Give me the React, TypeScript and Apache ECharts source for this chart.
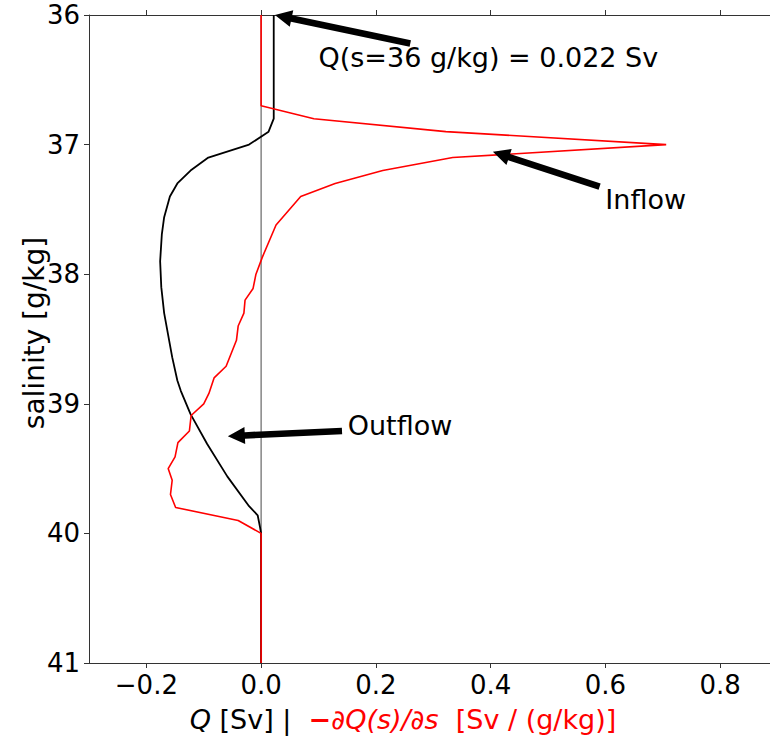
import React, { useEffect, useRef } from "react";
import * as echarts from "echarts";

// Q(s): cumulative transport [Sv] vs salinity [g/kg]
const salinityQ = [36.0, 36.8, 36.9, 37.0, 37.1, 37.2, 37.3, 37.4, 37.56, 37.69, 37.9, 38.1, 38.3, 38.64, 38.82, 38.9, 39.08, 39.31, 39.56, 39.79, 39.86, 39.95, 40.0, 41.0];
const qValues = [0.022, 0.022, 0.013, -0.021, -0.092, -0.123, -0.146, -0.159, -0.169, -0.173, -0.176, -0.174, -0.169, -0.155, -0.146, -0.14, -0.123, -0.094, -0.059, -0.021, -0.006, -0.002, 0, 0];

// -dQ/ds [Sv / (g/kg)] vs salinity
const salinityDeriv = [36.0, 36.7, 36.8, 36.9, 37.0, 37.1, 37.2, 37.3, 37.4, 37.62, 37.87, 38.0, 38.11, 38.2, 38.3, 38.4, 38.51, 38.71, 38.8, 38.92, 39.0, 39.09, 39.21, 39.3, 39.41, 39.5, 39.59, 39.7, 39.8, 39.9, 40.0, 41.0];
const derivValues = [0, 0, 0.092, 0.322, 0.706, 0.334, 0.212, 0.129, 0.069, 0.026, 0.002, -0.009, -0.014, -0.028, -0.03, -0.04, -0.043, -0.061, -0.082, -0.091, -0.1, -0.122, -0.125, -0.145, -0.15, -0.162, -0.155, -0.158, -0.149, -0.04, 0, 0];

// vertical reference line at zero
const zeroLineSalinity = [36, 41];

// axis ticks
const xTickValues = [-0.2, 0.0, 0.2, 0.4, 0.6, 0.8];
const yTickValues = [36, 37, 38, 39, 40, 41];
const xRange = [-0.3, 0.887];
const yRange = [36, 41];

// annotations
const annotationTexts = ["Q(s=36 g/kg) = 0.022 Sv", "Inflow", "Outflow"];
const arrowTips = [[0.024, 36.0], [0.404, 37.055], [-0.058, 39.25]];
const arrowTails = [[0.26, 36.22], [0.59, 37.325], [0.141, 39.21]];
const textAnchors = [[0.1, 36.33], [0.6, 37.42], [0.151, 39.17]];

const yAxisTitle = "salinity [g/kg]";

const FONT = "DejaVu Sans";

function fmtTick(v: number) {
  const s = Math.abs(v).toFixed(1);
  return v < -1e-9 ? "\u2212" + s : s;
}

export default function App() {
  const ref = useRef<HTMLDivElement>(null);
  useEffect(() => {
    if (!ref.current) return;
    const chart = echarts.init(ref.current, undefined, { renderer: "svg" });

    const annData = arrowTips.map((t, i) => [
      t[0], t[1], arrowTails[i][0], arrowTails[i][1], textAnchors[i][0], textAnchors[i][1],
    ]);

    const axisLineStyle = { color: "#333", width: 1 };

    chart.setOption({
      animation: false,
      backgroundColor: "#fff",
      grid: { left: 89, top: 15, right: 0, height: 648, containLabel: false },
      xAxis: [
        {
          type: "value",
          position: "bottom",
          min: xRange[0],
          max: xRange[1],
          axisLine: { show: true, onZero: false, lineStyle: axisLineStyle },
          axisTick: { show: true, length: 5, customValues: xTickValues, lineStyle: axisLineStyle },
          axisLabel: {
            customValues: xTickValues,
            formatter: (v: number) => fmtTick(v),
            fontSize: 26,
            fontFamily: FONT,
            color: "#000",
            margin: 9,
          },
          splitLine: { show: false },
        },
        {
          type: "value",
          position: "top",
          min: xRange[0],
          max: xRange[1],
          axisLine: { show: true, onZero: false, lineStyle: axisLineStyle },
          axisTick: { show: true, length: 5, customValues: xTickValues, lineStyle: axisLineStyle },
          axisLabel: { show: false },
          splitLine: { show: false },
        },
      ],
      yAxis: {
        type: "value",
        inverse: true,
        min: yRange[0],
        max: yRange[1],
        axisLine: { show: true, onZero: false, lineStyle: axisLineStyle },
        axisTick: { show: true, length: 5, customValues: yTickValues, lineStyle: axisLineStyle },
        axisLabel: {
          customValues: yTickValues,
          formatter: (v: number) => String(v),
          fontSize: 26,
          fontFamily: FONT,
          color: "#000",
          margin: 9,
        },
        splitLine: { show: false },
      },
      graphic: [
        {
          type: "text",
          x: 34,
          y: 333,
          rotation: Math.PI / 2,
          style: {
            text: yAxisTitle,
            fontSize: 28,
            fontFamily: FONT,
            fill: "#000",
            align: "center",
            verticalAlign: "middle",
          },
        },
        {
          type: "text",
          x: 403,
          y: 719,
          style: {
            text: "{qi|Q} {k|[Sv] |}  {rm|\u2212}{ri|\u2202Q(s)/\u2202s}  {r|[Sv / (g/kg)]}",
            fontSize: 27,
            fontFamily: FONT,
            fill: "#000",
            align: "center",
            verticalAlign: "middle",
            rich: {
              qi: { fontSize: 27, fontFamily: FONT, fontStyle: "italic", fill: "#000" },
              k: { fontSize: 27, fontFamily: FONT, fill: "#000" },
              rm: { fontSize: 27, fontFamily: FONT, fill: "#ff0000", fontWeight: "bold" },
              ri: { fontSize: 27, fontFamily: FONT, fontStyle: "italic", fill: "#ff0000" },
              r: { fontSize: 27, fontFamily: FONT, fill: "#ff0000" },
            },
          },
        },
      ],
      series: [
        {
          type: "line",
          data: zeroLineSalinity.map((s) => [0, s]),
          showSymbol: false,
          lineStyle: { color: "#666", width: 1.2 },
          silent: true,
          z: 1,
        },
        {
          type: "line",
          data: salinityQ.map((s, i) => [qValues[i], s]),
          showSymbol: false,
          lineStyle: { color: "#000", width: 1.8 },
          silent: true,
          z: 2,
        },
        {
          type: "line",
          data: salinityDeriv.map((s, i) => [derivValues[i], s]),
          showSymbol: false,
          lineStyle: { color: "#ff0000", width: 1.6 },
          silent: true,
          z: 3,
        },
        {
          type: "custom",
          data: annData,
          encode: { x: [0, 2, 4], y: [1, 3, 5] },
          silent: true,
          z: 4,
          renderItem: (params: any, api: any) => {
            const i = params.dataIndex;
            const tip = api.coord([api.value(0), api.value(1)]);
            const tail = api.coord([api.value(2), api.value(3)]);
            const txt = api.coord([api.value(4), api.value(5)]);
            const dx = tip[0] - tail[0];
            const dy = tip[1] - tail[1];
            const L = Math.hypot(dx, dy);
            const ux = dx / L, uy = dy / L;
            const nx = -uy, ny = ux;
            const hl = 17, hw = 8.5, sw = 3.3;
            const bx = tip[0] - ux * hl, by = tip[1] - uy * hl;
            const pts = [
              [tail[0] + nx * sw, tail[1] + ny * sw],
              [bx + nx * sw, by + ny * sw],
              [bx + nx * hw, by + ny * hw],
              [tip[0], tip[1]],
              [bx - nx * hw, by - ny * hw],
              [bx - nx * sw, by - ny * sw],
              [tail[0] - nx * sw, tail[1] - ny * sw],
            ];
            return {
              type: "group",
              children: [
                { type: "polygon", shape: { points: pts }, style: { fill: "#000" } },
                {
                  type: "text",
                  x: txt[0],
                  y: txt[1],
                  style: {
                    text: annotationTexts[i],
                    fontSize: 27,
                    fontFamily: FONT,
                    fill: "#000",
                    align: "left",
                    verticalAlign: "middle",
                  },
                },
              ],
            };
          },
        },
      ],
    });
    return () => chart.dispose();
  }, []);
  return (
    <div
      ref={ref}
      style={{ position: "fixed", left: 0, top: 0, width: 770, height: 738, background: "#fff" }}
    />
  );
}
